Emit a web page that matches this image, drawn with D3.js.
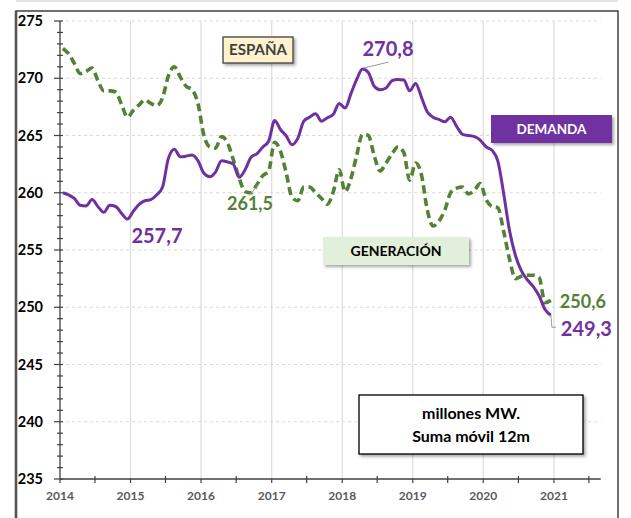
<!DOCTYPE html>
<html>
<head>
<meta charset="utf-8">
<script src="https://cdn.jsdelivr.net/npm/d3@7"></script>
<style>
  html, body { margin: 0; padding: 0; background: #fff; }
  svg { display: block; font-family: Lato, "Open Sans", sans-serif; }
</style>
</head>
<body>
<svg id="chart" width="631" height="518"></svg>
<script>
// ---- DATA (monthly, Jan 2014 – Dec 2020, 12-month moving sum, millions MW) ----
const startYear = 2014;
const startMonth = 0;
const demanda = [
  260.0, 259.8, 259.5, 258.9, 258.85, 259.4, 258.8, 258.3, 258.9, 258.8, 258.2, 257.7,
  258.4, 259.0, 259.3, 259.4, 259.8, 260.5, 263.0, 263.8, 263.15, 263.2, 263.3, 262.8,
  261.7, 261.4, 261.8, 262.8, 262.7, 262.5, 261.35, 262.0, 263.1, 263.4, 264.0, 264.5,
  266.3, 265.5, 265.0, 264.2, 264.75, 266.25, 266.6, 266.9, 266.25, 266.55, 266.85, 267.8,
  267.4, 268.7, 269.85, 270.8, 270.5, 269.3, 269.0, 269.15, 269.8, 269.9, 269.85, 268.9,
  269.55, 268.3, 267.1, 266.6, 266.4, 266.2, 266.6, 265.8, 265.1, 265.0, 264.9, 264.6,
  264.0, 263.7, 262.8, 259.9, 256.7, 254.5, 253.2, 252.4, 251.8, 251.0, 249.8, 249.3
];
const generacion = [
  272.6, 272.1, 271.3, 270.4, 270.6, 270.9, 269.8, 268.9, 268.9, 268.8, 267.7, 266.6,
  267.2, 267.7, 268.1, 267.8, 267.6, 268.3, 270.2, 271.0, 270.1, 269.3, 269.0, 267.8,
  265.0, 264.0, 263.9, 264.9, 264.4, 262.9, 261.3, 260.1, 260.0, 260.7, 261.5, 261.9,
  264.4, 263.6, 261.8, 259.6, 259.3, 260.5, 260.5, 260.0, 259.5, 259.0, 260.1, 262.0,
  260.1, 261.3, 263.2, 265.1, 265.0, 263.2, 261.9, 262.6, 263.4, 264.0, 263.5, 261.1,
  262.6, 261.5, 258.6, 257.1, 257.5, 258.5, 260.0, 260.4, 260.5, 259.9, 260.2, 260.8,
  259.4, 258.8, 258.7, 256.6, 254.2, 252.5, 252.7, 252.8, 252.8, 252.6, 250.4, 250.6
];
const yearLabels = ["2014", "2015", "2016", "2017", "2018", "2019", "2020", "2021"];
const yTickValues = [235, 240, 245, 250, 255, 260, 265, 270, 275];
const valueLabels = [
  { text: "257,7", series: "demanda", index: 11 },
  { text: "261,5", series: "generacion", index: 32 },
  { text: "270,8", series: "demanda", index: 51 },
  { text: "250,6", series: "generacion", index: 83 },
  { text: "249,3", series: "demanda", index: 83 }
];
const boxTexts = { espana: "ESPAÑA", demanda: "DEMANDA", generacion: "GENERACIÓN",
                   units: ["millones MW.", "Suma móvil 12m"] };

// ---- BUILD ----
const PURPLE = "#7030a0", GREEN = "#548235";
const dates = demanda.map((_, i) => new Date(startYear, startMonth + i, 16));
const svg = d3.select("#chart");

const defs = svg.append("defs");
const f = defs.append("filter").attr("id", "shadow").attr("x", "-10%").attr("y", "-20%")
  .attr("width", "130%").attr("height", "160%");
f.append("feDropShadow").attr("dx", 2).attr("dy", 2).attr("stdDeviation", 1.4)
  .attr("flood-color", "#000").attr("flood-opacity", 0.35);

// outer frame
svg.append("line").attr("x1", 16).attr("x2", 618).attr("y1", 1).attr("y2", 1)
  .attr("stroke", "#e4e4e4").attr("stroke-width", 2);
svg.append("rect").attr("x", 16).attr("y", 11).attr("width", 602).attr("height", 520)
  .attr("fill", "#fff").attr("stroke", "#333").attr("stroke-width", 1.4);
svg.append("line").attr("x1", 16).attr("x2", 16).attr("y1", 11).attr("y2", 518)
  .attr("stroke", "#555").attr("stroke-width", 2.6);

const x = d3.scaleTime()
  .domain([new Date(2014, 0, 1), new Date(2021, 7, 31)])
  .range([60, 600.7]);
const y = d3.scaleLinear().domain([235, 275]).range([479, 21]);

const yearDates = yearLabels.map(s => new Date(+s, 0, 1));

// vertical gridlines
svg.append("g").selectAll("line").data(yearDates.slice(1)).join("line")
  .attr("x1", d => x(d)).attr("x2", d => x(d))
  .attr("y1", y(275)).attr("y2", y(235))
  .attr("stroke", "#dcdcdc").attr("stroke-width", 1.2);
// horizontal dashed gridlines
svg.append("g").selectAll("line").data(yTickValues.slice(1)).join("line")
  .attr("x1", x.range()[0]).attr("x2", x.range()[1])
  .attr("y1", d => y(d)).attr("y2", d => y(d))
  .attr("stroke", "#d9d9d9").attr("stroke-width", 1).attr("stroke-dasharray", "3,3");

// y axis with minor ticks
const yAxisG = svg.append("g").attr("transform", `translate(${x.range()[0]},0)`);
yAxisG.append("line").attr("x1", 0).attr("x2", 0).attr("y1", y(275)).attr("y2", y(235))
  .attr("stroke", "#404040").attr("stroke-width", 1.3);
yAxisG.selectAll("line.minor").data(d3.range(235, 276, 1)).join("line")
  .attr("class", "minor")
  .attr("x1", d => d % 5 === 0 ? -6 : -3).attr("x2", 3)
  .attr("y1", d => y(d)).attr("y2", d => y(d))
  .attr("stroke", "#404040").attr("stroke-width", 1.2);
yAxisG.selectAll("text").data(yTickValues).join("text")
  .attr("x", -17).attr("y", d => y(d)).attr("dy", "0.36em")
  .attr("text-anchor", "end").attr("font-size", 14.5).attr("font-weight", 700)
  .attr("fill", "#000").text(d => d);

// x axis
const xAxisG = svg.append("g").attr("transform", `translate(0,${y(235)})`);
xAxisG.append("line").attr("x1", x.range()[0]).attr("x2", x.range()[1])
  .attr("y1", 0).attr("y2", 0).attr("stroke", "#404040").attr("stroke-width", 1.3);
const halfYears = d3.timeMonth.every(6).range(new Date(2014, 0, 1), new Date(2021, 7, 1));
xAxisG.selectAll("line.tick").data(halfYears).join("line").attr("class", "tick")
  .attr("x1", d => x(d)).attr("x2", d => x(d))
  .attr("y1", d => d.getMonth() === 0 ? 0 : -3).attr("y2", 4)
  .attr("stroke", "#404040").attr("stroke-width", 1.2);
xAxisG.selectAll("text").data(yearDates).join("text")
  .attr("x", d => x(d)).attr("y", 21)
  .attr("text-anchor", "middle").attr("font-size", 12).attr("font-weight", 700)
  .attr("fill", "#595959").text((d, i) => yearLabels[i]);

// lines
const lineGen = d3.line().x((d, i) => x(dates[i])).y(d => y(d)).curve(d3.curveMonotoneX);
svg.append("path").datum(generacion).attr("d", lineGen)
  .attr("fill", "none").attr("stroke", GREEN).attr("stroke-width", 3.6)
  .attr("stroke-dasharray", "8,4.5");
svg.append("path").datum(demanda).attr("d", lineGen)
  .attr("fill", "none").attr("stroke", PURPLE).attr("stroke-width", 3);

// leader lines
const pt = (s, i) => [x(dates[i]), y(s === "demanda" ? demanda[i] : generacion[i])];
const leader = pts => svg.append("polyline").attr("points", pts.map(p => p.join(",")).join(" "))
  .attr("fill", "none").attr("stroke", "#9a9a9a").attr("stroke-width", 1);
{
  const p = pt("demanda", 51); leader([[p[0] + 1, p[1] - 1], [p[0] + 26, p[1] - 7]]);
  const q = pt("generacion", 32); leader([[q[0] - 2, q[1] + 3], [q[0] + 8, q[1] - 9]]);
  const r = pt("demanda", 83); leader([[r[0], r[1]], [r[0] + 1, r[1] + 12], [r[0] + 5, r[1] + 12]]);
}

// value labels
const labelPos = {
  "257,7": { dx: 4, dy: 24, size: 20, color: PURPLE },
  "261,5": { dx: -24, dy: 17, size: 18, color: GREEN },
  "270,8": { dx: 0, dy: -13, size: 20, color: PURPLE },
  "250,6": { dx: 9, dy: 8, size: 18, color: GREEN },
  "249,3": { dx: 10, dy: 21, size: 20, color: PURPLE }
};
svg.append("g").selectAll("text").data(valueLabels).join("text")
  .attr("x", d => pt(d.series, d.index)[0] + labelPos[d.text].dx)
  .attr("y", d => pt(d.series, d.index)[1] + labelPos[d.text].dy)
  .attr("font-size", d => labelPos[d.text].size).attr("font-weight", 700)
  .attr("fill", d => labelPos[d.text].color).text(d => d.text);

// boxes
function box(bx, by, w, h, fill, stroke, lines, color, size, lineH) {
  const g = svg.append("g");
  g.append("rect").attr("x", bx).attr("y", by).attr("width", w).attr("height", h)
    .attr("fill", fill).attr("stroke", stroke || "none").attr("stroke-width", 1.3)
    .attr("filter", "url(#shadow)");
  const n = lines.length;
  lines.forEach((t, k) => {
    g.append("text").attr("x", bx + w / 2)
      .attr("y", by + h / 2 + (k - (n - 1) / 2) * lineH).attr("dy", "0.36em")
      .attr("text-anchor", "middle").attr("font-size", size).attr("font-weight", 700)
      .attr("fill", color).text(t);
  });
}
box(223, 37, 70, 26, "#fff2cc", "#404040", [boxTexts.espana], "#404040", 15, 0);
box(491, 115, 121, 28, PURPLE, null, [boxTexts.demanda], "#fff", 13.5, 0);
box(323, 237, 146, 28, "#e2efda", null, [boxTexts.generacion], "#000", 14, 0);
box(359, 395, 224, 59, "#fff", "#000", boxTexts.units, "#000", 16, 23);
</script>
</body>
</html>
